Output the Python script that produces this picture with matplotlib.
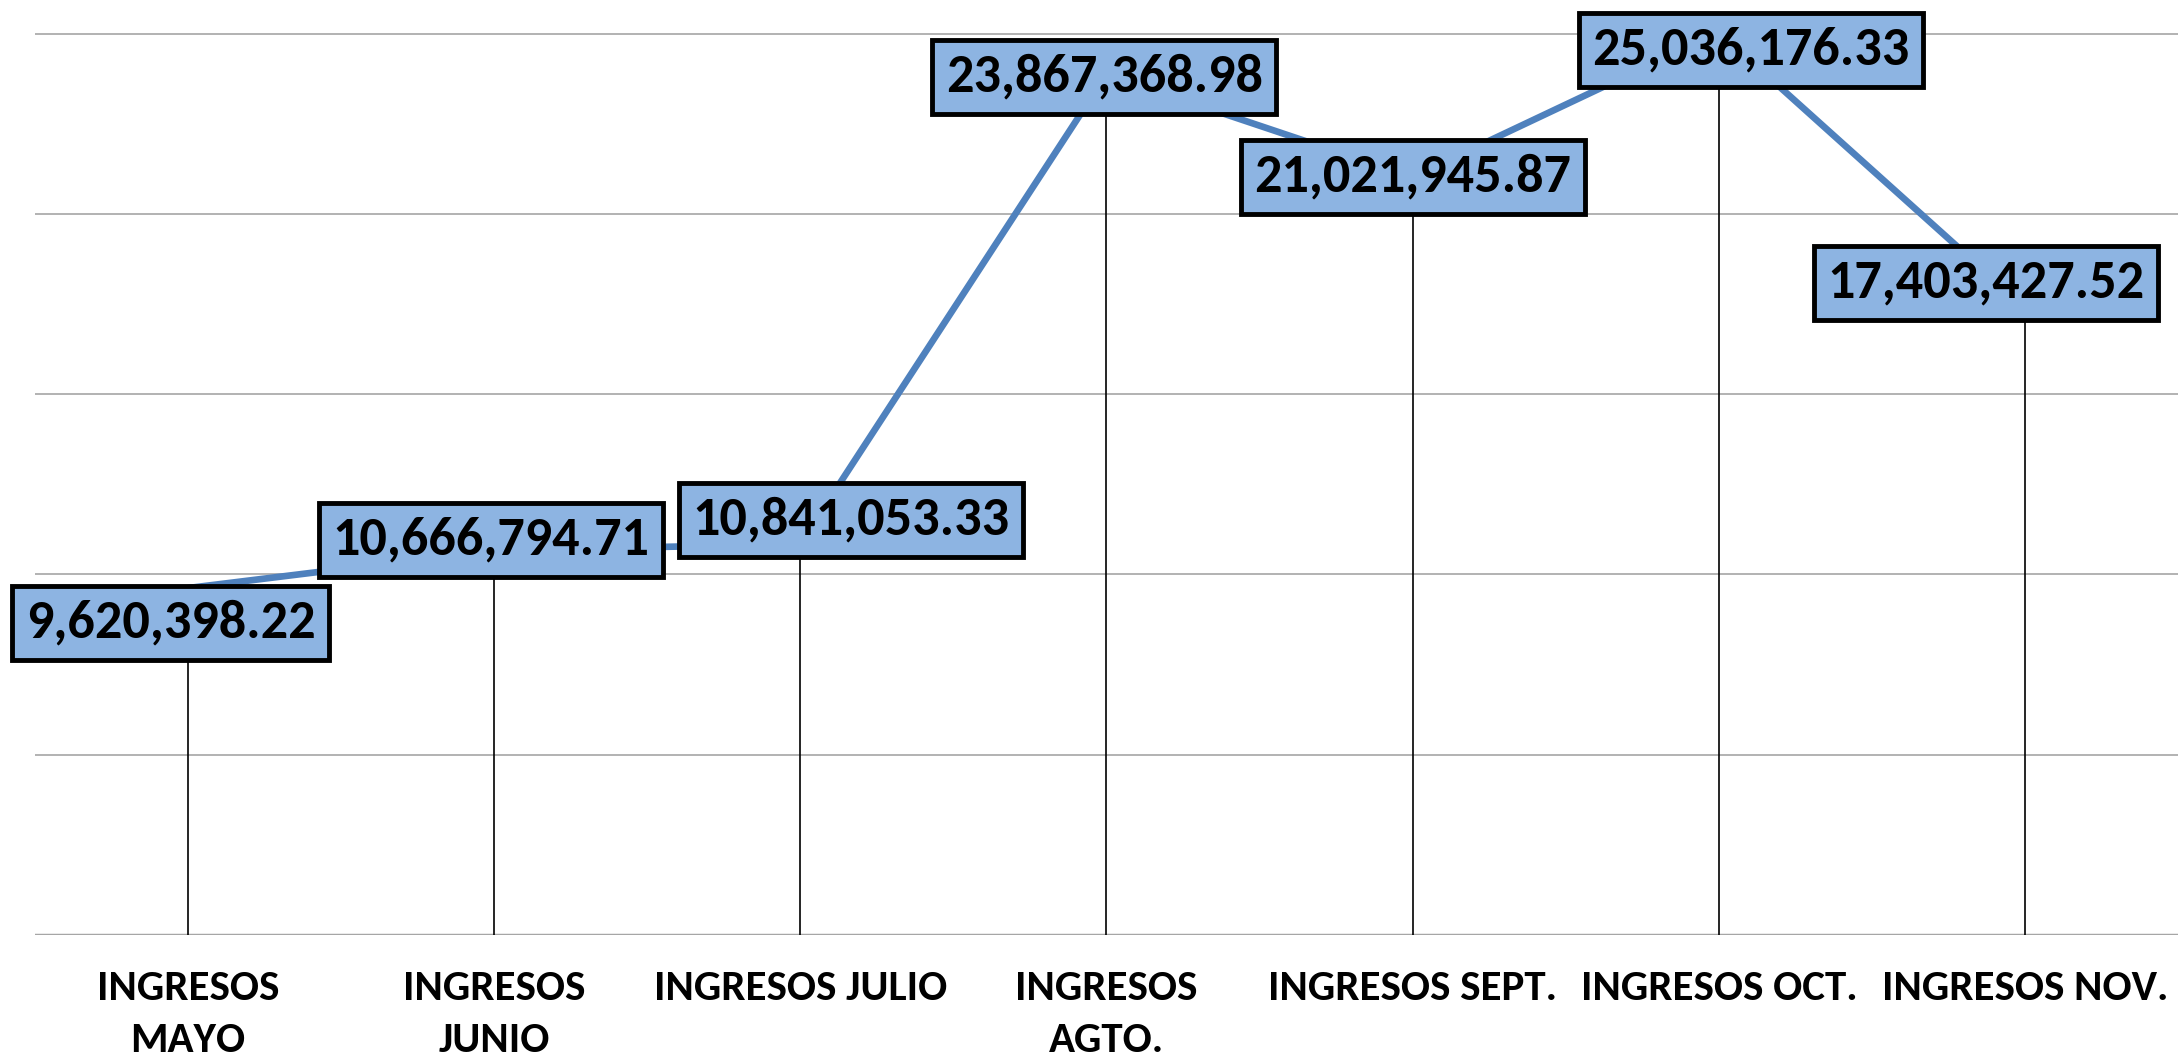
import matplotlib
matplotlib.use("Agg")
import matplotlib.pyplot as plt
from matplotlib import font_manager

# Datos
categorias = ["INGRESOS\nMAYO", "INGRESOS\nJUNIO", "INGRESOS JULIO", "INGRESOS\nAGTO.",
              "INGRESOS SEPT.", "INGRESOS OCT.", "INGRESOS NOV."]
ingresos = [9620398.22, 10666794.71, 10841053.33, 23867368.98,
            21021945.87, 25036176.33, 17403427.52]

# desplazamiento de las etiquetas (pixeles), colocadas a mano en el original
desp_etiquetas = [(-17, -35), (-3, 10), (51, 24), (-2, -3), (0, 0), (32, -18), (-39, 24)]

# fuente parecida a Calibri negrita: (nombre, tamaño etiquetas, tamaño categorias)
candidatas = [("Carlito", 39, 31), ("Open Sans Condensed", 36, 27),
              ("Roboto Condensed", 38, 28), ("PT Sans Narrow", 40, 30),
              ("Fira Sans Condensed", 36, 27), ("Open Sans", 32, 22)]
nombres = {f.name for f in font_manager.fontManager.ttflist}
fuente, tam_etq, tam_cat = next(c for c in candidatas if c[0] in nombres)

fig = plt.figure(figsize=(21.81, 10.58), dpi=100)
ax = fig.add_axes([0.0159, 0.1163, 0.9828, 0.8837])

x = list(range(len(ingresos)))
ax.set_xlim(-0.5, len(ingresos) - 0.5)
ax.set_ylim(0, 25930000)

# lineas de cuadricula
for g in [5e6, 10e6, 15e6, 20e6, 25e6]:
    ax.axhline(g, color="#A6A6A6", lw=1.2, zorder=1)
ax.axhline(0, color="#A6A6A6", lw=2.5, zorder=1)

# lineas de caida
ax.vlines(x, 0, ingresos, color="black", lw=1.2, zorder=2)

ax.plot(x, ingresos, color="#4F81BD", lw=4.8, zorder=3, solid_capstyle="butt")

for xi, v, (dx, dy) in zip(x, ingresos, desp_etiquetas):
    ax.annotate(f"{v:,.2f}", (xi, v), xytext=(dx, dy), textcoords="offset pixels",
                ha="center", va="center", fontsize=tam_etq, fontweight="bold",
                family=fuente, color="black", zorder=5,
                bbox=dict(boxstyle="square,pad=0.25", fc="#8DB4E2", ec="black", lw=3.5))

ax.set_xticks(x)
ax.set_xticklabels(categorias, fontsize=tam_cat, fontweight="bold", family=fuente, va="top")
for t in ax.get_xticklabels():
    t.set_linespacing(1.5)
ax.tick_params(axis="x", length=0, pad=25)
ax.set_yticks([])
for s in ax.spines.values():
    s.set_visible(False)

fig.savefig("out.png", dpi=100)
